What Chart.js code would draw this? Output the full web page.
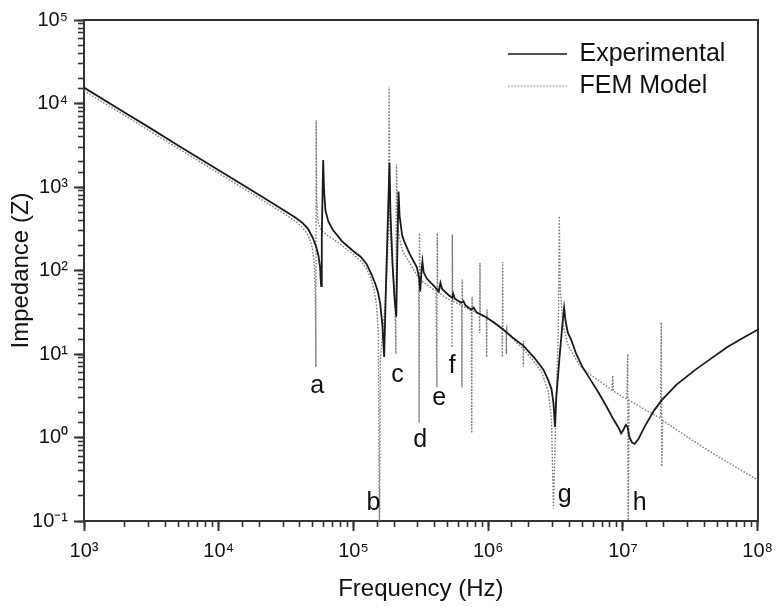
<!DOCTYPE html>
<html><head><meta charset="utf-8">
<script src="https://cdn.jsdelivr.net/npm/chart.js@4.4.1/dist/chart.umd.min.js"></script>
<style>html,body{margin:0;padding:0;background:#fff;}#wrap{width:781px;height:607px;}</style>
</head><body><div id="wrap"><canvas id="c" width="781" height="607"></canvas></div>
<script>
// ---- data ----
const seriesNames = ['Experimental', 'FEM Model'];

const expFreq = [1e3,2e3,3e3,5e3,1e4,2e4,3e4,3.7e4,4.2e4,4.6e4,5.0e4,5.3e4,5.5e4,5.65e4,5.72e4,5.76e4,5.82e4,5.9e4,5.96e4,6.05e4,6.2e4,6.5e4,7.0e4,8.2e4,1.0e5,1.13e5,1.25e5,1.34e5,1.45e5,1.52e5,1.58e5,1.64e5,1.69e5,1.74e5,1.80e5,1.85e5,1.88e5,1.95e5,2.02e5,2.08e5,2.12e5,2.16e5,2.2e5,2.3e5,2.39e5,2.6e5,2.95e5,3.08e5,3.13e5,3.2e5,3.25e5,3.32e5,3.5e5,4.0e5,4.3e5,4.42e5,4.55e5,5.0e5,5.4e5,5.5e5,5.65e5,6.3e5,6.55e5,6.8e5,7.5e5,7.8e5,8.2e5,9.5e5,1.1e6,1.3e6,1.5e6,1.83e6,2.2e6,2.57e6,2.8e6,2.95e6,3.05e6,3.13e6,3.2e6,3.28e6,3.4e6,3.55e6,3.66e6,3.75e6,3.9e6,4.13e6,4.5e6,5.0e6,5.8e6,6.6e6,7.5e6,8.5e6,9.3e6,9.7e6,1.0e7,1.05e7,1.08e7,1.12e7,1.17e7,1.22e7,1.3e7,1.45e7,1.7e7,1.95e7,2.5e7,3.44e7,4.5e7,6.0e7,8.0e7,1e8];
const expZ = [15500,7800,5250,3150,1590,800,535,432,370,315,245,190,150,110,75,65,250,900,2100,900,520,390,310,225,170,146,120,95,70,55,40,22,9.2,60,400,1950,500,120,45,28,200,880,450,260,220,160,110,80,56,100,128,95,80,64,56,71,60,52,47,53,46,41,43,38,34,36,31.5,28,24,19.5,16,12.5,9,6.5,4.8,3.8,2.6,1.34,3.0,4.9,10,22,35.8,25,18,14.8,10,7.0,4.8,3.43,2.4,1.65,1.3,1.12,1.2,1.42,1.35,1.0,0.87,0.84,0.95,1.35,2.1,2.82,4.3,6.46,8.8,12.2,16,19.5];

const femFreq = [1e3,2e3,3e3,5e3,1e4,2e4,3e4,3.7e4,4.2e4,4.6e4,4.9e4,5.05e4,5.15e4,5.22e4,5.26e4,5.29e4,5.33e4,5.45e4,5.8e4,6.5e4,7.0e4,8.2e4,1.0e5,1.13e5,1.25e5,1.34e5,1.42e5,1.48e5,1.53e5,1.56e5,1.585e5,1.65e5,1.75e5,1.82e5,1.84e5,1.87e5,1.95e5,2.03e5,2.065e5,2.085e5,2.13e5,2.3e5,2.6e5,2.9e5,3.05e5,3.07e5,3.09e5,3.12e5,3.6e5,4.1e5,4.16e5,4.19e5,4.22e5,4.9e5,5.37e5,5.39e5,5.42e5,5.45e5,6.35e5,6.38e5,6.42e5,6.45e5,7.52e5,7.55e5,7.59e5,7.62e5,8.6e5,8.64e5,8.69e5,8.73e5,9.7e5,9.74e5,9.79e5,9.83e5,1.27e6,1.275e6,1.28e6,1.285e6,1.36e6,1.365e6,1.37e6,1.375e6,1.6e6,1.82e6,1.825e6,1.83e6,1.835e6,2.2e6,2.5e6,2.8e6,2.95e6,3.05e6,3.2e6,3.32e6,3.37e6,3.42e6,3.6e6,3.9e6,4.26e6,4.73e6,5.6e6,7.0e6,8.3e6,8.4e6,8.5e6,1.0e7,1.07e7,1.085e7,1.095e7,1.11e7,1.47e7,1.9e7,1.925e7,1.945e7,1.97e7,3.44e7,5e7,1e8];
const femZ = [14200,7200,4800,2900,1460,735,490,390,325,265,200,150,95,40,7,6300,700,380,300,260,240,200,155,130,105,82,60,40,18,0.05,9,18,60,300,16000,300,110,45,10,1860,320,175,125,92,82,1.5,280,78,65,57,4,280,55,47,43,12,270,43,38,4,78,37.5,33,1.13,48.5,33,30,17.8,123,29.5,27,9.2,34,26.8,20,9.2,126,20,18.5,10,22,18.3,14,11.5,7.1,14.4,11.4,8,6,3.5,1.6,0.14,3,20,450,60,22,13,10,7.4,5.8,4.5,3.7,5.5,3.6,3.05,2.9,10,0.05,2.8,2.14,1.7,24,0.45,1.6,0.88,0.6,0.31];

const markLabels = ['a','b','c','d','e','f','g','h'];
const markFreq = [5.37e4,1.41e5,2.12e5,3.13e5,4.33e5,5.4e5,3.7e6,1.33e7];
const markZ = [3.41,0.1355,4.63,0.77,2.45,5.92,0.169,0.1355];

const xRange = [1e3, 1e8];
const yRange = [0.1, 1e5];
const xTitle = 'Frequency (Hz)';
const yTitle = 'Impedance (Z)';

// ---- helpers ----
const FONT = '"Liberation Sans", Arial, Helvetica, sans-serif';
const SUP = {'-':'\u207B','0':'\u2070','1':'\u00B9','2':'\u00B2','3':'\u00B3','4':'\u2074','5':'\u2075','6':'\u2076','7':'\u2077','8':'\u2078','9':'\u2079'};
function isPow10(v){ const l = Math.log10(v); return Math.abs(l - Math.round(l)) < 1e-9; }
function pow10Label(v){ const e = Math.round(Math.log10(v)); return '10' + String(e).split('').map(c => SUP[c]).join(''); }
function toPts(fs, zs){ return fs.map((f, i) => ({x: f, y: zs[i]})); }

Chart.defaults.font.family = FONT;

const marksPlugin = {
  id: 'marks',
  afterDatasetsDraw(chart){
    const {ctx, scales} = chart;
    const xs = scales.x, ys = scales.y;
    ctx.save();
    ctx.font = '25px ' + FONT;
    ctx.fillStyle = '#111';
    ctx.textAlign = 'center';
    ctx.textBaseline = 'alphabetic';
    markLabels.forEach((t, i) => ctx.fillText(t, xs.getPixelForValue(markFreq[i]), ys.getPixelForValue(markZ[i])));
    ctx.restore();
  }
};

const legendPlace = {
  id: 'legendPlace',
  afterLayout(chart){
    const lg = chart.legend;
    if (!lg) return;
    const w = lg.width, h = lg.height;
    lg.left = 501; lg.right = 501 + w;
    lg.top = 34.5; lg.bottom = 34.5 + h;
  }
};

const axisColor = '#333';
const tickFont = {family: FONT, size: 20};

new Chart(document.getElementById('c'), {
  type: 'line',
  data: {
    datasets: [
      {label: seriesNames[0], data: toPts(expFreq, expZ), xAxisID: 'x', yAxisID: 'y',
       borderColor: '#1a1a1a', backgroundColor: 'transparent', borderWidth: 1.8, pointRadius: 0, tension: 0, fill: false},
      {label: seriesNames[1], data: toPts(femFreq, femZ), xAxisID: 'x', yAxisID: 'y',
       borderColor: '#7c7c7c', backgroundColor: 'transparent', borderWidth: 1.4, borderDash: [1.6, 1.6], pointRadius: 0, tension: 0, fill: false}
    ]
  },
  options: {
    responsive: false, animation: false, devicePixelRatio: 1,
    layout: {padding: {left: 0, top: 20, right: 18, bottom: 0}},
    plugins: {
      legend: {
        position: 'chartArea', align: 'start',
        labels: {
          usePointStyle: true, pointStyle: 'line', pointStyleWidth: 59, padding: 7, color: '#111', font: {family: FONT, size: 25},
          generateLabels: (chart) => {
            const items = Chart.defaults.plugins.legend.labels.generateLabels(chart);
            items.forEach(it => {
              const ds = chart.data.datasets[it.datasetIndex];
              it.strokeStyle = ds.borderColor;
              it.fillStyle = 'transparent';
              it.lineWidth = ds.datasetIndex === 1 ? 1.2 : Math.min(ds.borderWidth, 1.5);
              it.lineDash = ds.borderDash || [];
              it.pointStyle = 'line';
            });
            items[1].lineWidth = 1.2;
            return items;
          }
        }
      },
      tooltip: {enabled: false}
    },
    scales: {
      x: {
        type: 'logarithmic', position: 'bottom', min: xRange[0], max: xRange[1],
        afterBuildTicks: s => { s.ticks = s.ticks.filter(t => isPow10(t.value)); },
        ticks: {autoSkip: false, maxRotation: 0, padding: 8, color: '#111', font: tickFont, callback: v => isPow10(v) ? pow10Label(v) : ''},
        grid: {drawOnChartArea: false, tickLength: 10, tickWidth: 2, tickColor: axisColor},
        border: {color: axisColor, width: 2},
        title: {display: true, text: xTitle, color: '#111', font: {family: FONT, size: 24}, padding: {top: 0, bottom: 3}},
        afterFit: s => { s.height = 86; }
      },
      xMinor: {
        type: 'logarithmic', position: 'bottom', weight: -1, min: xRange[0], max: xRange[1],
        ticks: {display: false},
        grid: {drawOnChartArea: false, tickLength: 6, tickWidth: 1.6, tickColor: axisColor},
        border: {display: false},
        afterFit: s => { s.height = 0; }
      },
      xTop: {
        type: 'linear', position: 'top', min: 0, max: 1,
        ticks: {display: false},
        grid: {drawOnChartArea: false, drawTicks: false},
        border: {color: axisColor, width: 2},
        afterFit: s => { s.height = 0; }
      },
      y: {
        type: 'logarithmic', position: 'left', min: yRange[0], max: yRange[1],
        afterBuildTicks: s => { s.ticks = s.ticks.filter(t => isPow10(t.value)); },
        ticks: {autoSkip: false, padding: 6, color: '#111', font: tickFont, callback: v => isPow10(v) ? pow10Label(v) : ''},
        grid: {drawOnChartArea: false, tickLength: 10, tickWidth: 2, tickColor: axisColor},
        border: {color: axisColor, width: 2},
        title: {display: true, text: yTitle, color: '#111', font: {family: FONT, size: 24}, padding: {top: 7, bottom: 0}},
        afterFit: s => { s.width = 84; }
      },
      yMinor: {
        type: 'logarithmic', position: 'left', weight: -1, min: yRange[0], max: yRange[1],
        ticks: {display: false},
        grid: {drawOnChartArea: false, tickLength: 6, tickWidth: 1.6, tickColor: axisColor},
        border: {display: false},
        afterFit: s => { s.width = 0; }
      },
      yRight: {
        type: 'linear', position: 'right', min: 0, max: 1,
        ticks: {display: false},
        grid: {drawOnChartArea: false, drawTicks: false},
        border: {color: axisColor, width: 2},
        afterFit: s => { s.width = 0; }
      }
    }
  },
  plugins: [marksPlugin, legendPlace]
});
</script>
</body></html>
